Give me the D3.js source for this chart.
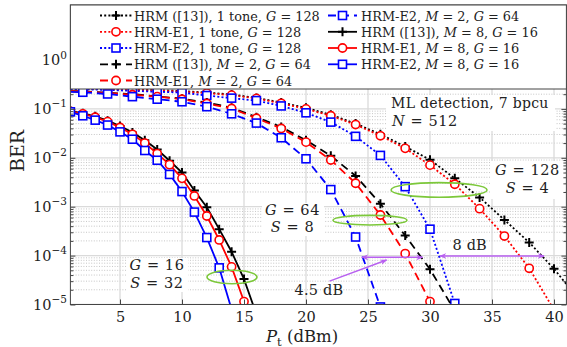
<!DOCTYPE html>
<html><head><meta charset="utf-8">
<script src="https://cdn.jsdelivr.net/npm/d3@7"></script>
<style>
html,body{margin:0;padding:0;background:#fff;}
svg{display:block;}
text{font-family:'DejaVu Serif',serif;fill:#222;}
</style></head>
<body>
<div id="chart"></div>
<script>
// ---------- data ----------
const xTicks = [5, 10, 15, 20, 25, 30, 35, 40];
const yTickExps = [0, -1, -2, -3, -4, -5];

// G = 16 group (M = 8), every 1 dB
const xM8 = [1,2,3,4,5,6,7,8,9,10,11,12,13,14,15,16];
const hrmM8 = [0.0912,0.0813,0.0708,0.0575,0.0447,0.0331,0.0229,0.0148,0.00871,0.00501,0.00214,9.77e-4,3.47e-4,1.20e-4,3.31e-5,6.31e-6];
const e1M8  = [0.0891,0.0794,0.0676,0.0550,0.0417,0.0302,0.0200,0.0122,0.00724,0.00380,0.00166,6.46e-4,2.09e-4,5.89e-5,1.15e-5,1.58e-6];
const xE2M8 = [1,2,3,4,5,6,7,8,9,10,11,12,13,14];
const e2M8  = [0.0871,0.0724,0.0589,0.0468,0.0339,0.0240,0.0141,0.00891,0.00457,0.00204,7.76e-4,2.34e-4,5.62e-5,7.94e-6];

// G = 64 group (M = 2), every 2 dB
const xM2 = [0,2,4,6,8,10,12,14,16,18,20,22,24,26,28,30,32];
const hrmM2 = [0.234,0.229,0.214,0.200,0.180,0.162,0.135,0.106,0.0676,0.0427,0.0229,0.0110,0.00427,0.00115,2.57e-4,5.25e-5,7.41e-6];
const e1M2  = [0.234,0.226,0.211,0.195,0.178,0.158,0.129,0.102,0.0646,0.0398,0.0209,0.00902,0.00302,6.76e-4,1.10e-4,1.15e-5,1e-6];
const xE2M2 = [0,2,4,6,8,10,12,14,16,18,20,22,24,26];
const e2M2  = [0.229,0.219,0.202,0.178,0.158,0.140,0.111,0.0794,0.0513,0.0257,0.00955,0.00224,2.40e-4,8.91e-6];

// G = 128 group (1 tone), every 2 dB
const x1T = [0,2,4,6,8,10,12,14,16,18,20,22,24,26,28,30,32,34,36,38,40,42];
const hrm1T = [0.266,0.260,0.254,0.248,0.243,0.232,0.216,0.197,0.168,0.135,0.105,0.0759,0.0501,0.0302,0.0170,0.00912,0.00380,0.00155,5.37e-4,1.86e-4,5.37e-5,1.26e-5];
const e11T  = [0.263,0.257,0.251,0.245,0.237,0.226,0.211,0.191,0.164,0.130,0.100,0.0724,0.0479,0.0282,0.0156,0.00708,0.00288,9.12e-4,2.51e-4,5.50e-5,7.76e-6,1e-6];
const xE21T = [0,2,4,6,8,10,12,14,16,18,20,22,24,26,28,30,32,34];
const e21T  = [0.257,0.251,0.245,0.234,0.224,0.216,0.188,0.166,0.148,0.115,0.0832,0.0537,0.0275,0.0112,0.00257,3.47e-4,1.05e-5,1e-7];

const seriesDefs = [
  {name:"HRM ([13]), 1 tone, G = 128", x:x1T, y:hrm1T, color:"#000", dash:"2,2.2", mark:"plus", col:0},
  {name:"HRM-E1, 1 tone, G = 128", x:x1T, y:e11T, color:"#ff0000", dash:"2,2.2", mark:"circle", col:0},
  {name:"HRM-E2, 1 tone, G = 128", x:xE21T, y:e21T, color:"#0000ff", dash:"2,2.2", mark:"square", col:0},
  {name:"HRM ([13]), M = 2, G = 64", x:xM2, y:hrmM2, color:"#000", dash:"8,5", mark:"plus", col:0},
  {name:"HRM-E1, M = 2, G = 64", x:xM2, y:e1M2, color:"#ff0000", dash:"8,5", mark:"circle", col:0},
  {name:"HRM-E2, M = 2, G = 64", x:xE2M2, y:e2M2, color:"#0000ff", dash:"8,5", mark:"square", col:1},
  {name:"HRM ([13]), M = 8, G = 16", x:xM8, y:hrmM8, color:"#000", dash:null, mark:"plus", col:1},
  {name:"HRM-E1, M = 8, G = 16", x:xM8, y:e1M8, color:"#ff0000", dash:null, mark:"circle", col:1},
  {name:"HRM-E2, M = 8, G = 16", x:xE2M8, y:e2M8, color:"#0000ff", dash:null, mark:"square", col:1}
];

// ---------- layout ----------
const W = 567, H = 347;
const svg = d3.select("#chart").append("svg").attr("width", W).attr("height", H);
const xs = d3.scaleLinear().domain([1, 41]).range([70.4, 566.4]);
const ys = d3.scaleLog().domain([1e-5, Math.pow(10, 1.125)]).range([304.5, 5]);
const L = xs.range()[0], R = xs.range()[1], T = ys.range()[1], B = ys.range()[0];

svg.append("defs").append("clipPath").attr("id","clip")
  .append("rect").attr("x",L).attr("y",T).attr("width",R-L).attr("height",B-T);

// grid
const minors = [];
for (let e=-5; e<=1; e++) for (let m=2; m<=9; m++) { const v=m*Math.pow(10,e); if (v<ys.domain()[1]) minors.push(v); }
const grid = svg.append("g").attr("clip-path","url(#clip)");
grid.selectAll(".mg").data(minors).join("line")
  .attr("x1",L).attr("x2",R).attr("y1",d=>ys(d)).attr("y2",d=>ys(d))
  .attr("stroke","#b8b8b8").attr("stroke-width",0.8).attr("stroke-dasharray","1,1.6");
grid.selectAll(".gy").data(yTickExps.map(e=>Math.pow(10,e))).join("line")
  .attr("x1",L).attr("x2",R).attr("y1",d=>ys(d)).attr("y2",d=>ys(d))
  .attr("stroke","#dadada").attr("stroke-width",1.3);
grid.selectAll(".gx").data(xTicks).join("line")
  .attr("x1",d=>xs(d)).attr("x2",d=>xs(d)).attr("y1",T).attr("y2",B)
  .attr("stroke","#dadada").attr("stroke-width",1.3);

// helper for math-italic text
function richText(sel, str) {
  const parts = str.split(/(\b[GMNSP](?= =))/);
  parts.forEach(p => {
    if (!p) return;
    const t = sel.append("tspan").text(p);
    if (/^[GMNSP]$/.test(p)) t.attr("font-style","italic");
  });
}

// white annotation boxes
const boxes = [
  {x0:386, x1:555, y0:95, y1:131},
  {x0:490, x1:565, y0:161, y1:199},
  {x0:262, x1:324, y0:203, y1:236},
  {x0:127, x1:188, y0:258, y1:292}
];
svg.append("g").selectAll("rect").data(boxes).join("rect")
  .attr("x",d=>d.x0).attr("y",d=>d.y0).attr("width",d=>d.x1-d.x0).attr("height",d=>d.y1-d.y0)
  .attr("fill","#fff");

// curves
const line = d3.line().x(d=>xs(d[0])).y(d=>ys(d[1]));
const plotG = svg.append("g").attr("clip-path","url(#clip)");
function drawMarker(g, type, color, cx, cy) {
  if (type==="circle") {
    g.append("circle").attr("cx",cx).attr("cy",cy).attr("r",4.1)
      .attr("fill","#fff").attr("stroke",color).attr("stroke-width",1.6);
  } else if (type==="square") {
    g.append("rect").attr("x",cx-4).attr("y",cy-4).attr("width",8).attr("height",8)
      .attr("fill","#fff").attr("stroke",color).attr("stroke-width",1.6);
  } else {
    g.append("path").attr("d",`M${cx-4.5},${cy}H${cx+4.5}M${cx},${cy-4.5}V${cy+4.5}`)
      .attr("stroke",color).attr("stroke-width",2).attr("fill","none");
  }
}
seriesDefs.forEach(s => {
  const pts = s.x.map((xv,i)=>[xv, s.y[i]]);
  const g = plotG.append("g");
  g.append("path").datum(pts).attr("d",line).attr("fill","none")
    .attr("stroke",s.color).attr("stroke-width",1.8)
    .attr("stroke-dasharray", s.dash ? s.dash : null);
  pts.forEach(p => drawMarker(g, s.mark, s.color, xs(p[0]), ys(p[1])));
});

// annotation texts
const ann = svg.append("g");
function annText(x, y, str, anchor, size, ls) {
  const t = ann.append("text").attr("x",x).attr("y",y).attr("text-anchor",anchor||"middle")
    .attr("font-size", size).attr("letter-spacing", ls);
  richText(t, str);
}
annText(391, 108, "ML detection, 7 bpcu", "start", 14, 0.3);
annText(392, 126, "N = 512", "start", 14.5, 0.6);
annText(527.5, 175, "G = 128", "middle", 14.5, 0.6);
annText(527.5, 193, "S = 4", "middle", 14.5, 0.6);
annText(292.5, 215, "G = 64", "middle", 14.5, 0.6);
annText(292.5, 232, "S = 8", "middle", 14.5, 0.6);
annText(157, 270, "G = 16", "middle", 14.5, 0.6);
annText(157, 288, "S = 32", "middle", 14.5, 0.6);
annText(xs(21.05), 295, "4.5 dB", "middle", 14.5, 0.2);
annText(xs(33.2), 249.5, "8 dB", "middle", 14.5, 0.2);

// green ellipses
const ellipses = [
  {x:14.03, y:3.65e-5, rx:25, ry:6.7},
  {x:25.16, y:5.3e-4, rx:37, ry:4.8},
  {x:30.73, y:2.2e-3, rx:48, ry:7.3}
];
svg.append("g").selectAll("ellipse").data(ellipses).join("ellipse")
  .attr("cx",d=>xs(d.x)).attr("cy",d=>ys(d.y)).attr("rx",d=>d.rx).attr("ry",d=>d.ry)
  .attr("fill","none").attr("stroke","#7cc83a").attr("stroke-width",1.6);

// purple arrows
const purple = "#b860f0";
const defs = svg.select("defs");
defs.append("marker").attr("id","ah").attr("viewBox","0 0 10 10").attr("refX",9).attr("refY",5)
  .attr("markerWidth",7).attr("markerHeight",7).attr("orient","auto-start-reverse")
  .attr("markerUnits","userSpaceOnUse")
  .append("path").attr("d","M0,1 L10,5 L0,9 L3,5 Z").attr("fill",purple);
const arrows = [
  {x1:24.5, y1:9.2e-5, x2:29.4, y2:9.2e-5, both:true},
  {x1:21.9, y1:3.0e-5, x2:26.5, y2:8.1e-5, both:false},
  {x1:30.8, y1:9.85e-5, x2:39.2, y2:9.85e-5, both:true}
];
svg.append("g").selectAll("line").data(arrows).join("line")
  .attr("x1",d=>xs(d.x1)).attr("y1",d=>ys(d.y1)).attr("x2",d=>xs(d.x2)).attr("y2",d=>ys(d.y2))
  .attr("stroke",purple).attr("stroke-width",1.5)
  .attr("marker-end","url(#ah)").attr("marker-start",d=>d.both?"url(#ah)":null);

// axes (inward ticks)
const axCol = "#444";
function styleAxis(g){ g.select(".domain").remove(); g.selectAll("line").attr("stroke",axCol); }
const xa = svg.append("g").attr("transform",`translate(0,${B})`)
  .call(d3.axisBottom(xs).tickValues(xTicks).tickSize(-5).tickPadding(7).tickFormat(d3.format("d")));
styleAxis(xa); xa.selectAll("text").attr("font-size",14.5).attr("fill","#222").attr("font-family","'DejaVu Serif',serif");
const xt = svg.append("g").attr("transform",`translate(0,${T})`)
  .call(d3.axisTop(xs).tickValues(xTicks).tickSize(-5).tickFormat(""));
styleAxis(xt);
const yDec = yTickExps.map(e=>Math.pow(10,e));
[ [d3.axisLeft, L], [d3.axisRight, R] ].forEach(([fn, xpos]) => {
  const a = svg.append("g").attr("transform",`translate(${xpos},0)`)
    .call(fn(ys).tickValues(yDec).tickSize(-5).tickFormat(""));
  styleAxis(a);
  const m = svg.append("g").attr("transform",`translate(${xpos},0)`)
    .call(fn(ys).tickValues(minors).tickSize(-3).tickFormat(""));
  styleAxis(m);
});
// y tick labels 10^k
const yl = svg.append("g");
yTickExps.forEach(e => {
  const t = yl.append("text").attr("x",67).attr("y",ys(Math.pow(10,e))+5)
    .attr("text-anchor","end").attr("font-size",14.5);
  t.append("tspan").text("10");
  t.append("tspan").attr("dy",-6.5).attr("font-size",10.5).text(e===0 ? "0" : "\u2212"+(-e));
});
// frame
svg.append("rect").attr("x",L).attr("y",T).attr("width",R-L).attr("height",B-T)
  .attr("fill","none").attr("stroke",axCol).attr("stroke-width",1);

// axis titles
svg.append("text").attr("transform",`translate(23.5,151) rotate(-90)`).attr("text-anchor","middle")
  .attr("font-size",19).text("BER");
const xl = svg.append("text").attr("x",266).attr("y",342).attr("font-size",16.5);
xl.append("tspan").attr("font-style","italic").text("P");
xl.append("tspan").attr("font-size",11.5).attr("dy",3.5).text("t");
xl.append("tspan").attr("dy",-3.5).text(" (dBm)");

// legend
const leg = svg.append("g");
leg.append("rect").attr("x",L).attr("y",T).attr("width",R-L).attr("height",84)
  .attr("fill","#fff").attr("stroke",axCol).attr("stroke-width",1);
const colX = [{l0:100, l1:132, tx:134}, {l0:328, l1:357, tx:361}];
const rowY = [15.5, 31.8, 48, 64.3, 80.5];
const counters = [0,0];
const legTexts = [];
seriesDefs.forEach(s => {
  const c = colX[s.col]; const r = rowY[counters[s.col]++];
  const g = leg.append("g");
  g.append("line").attr("x1",c.l0).attr("x2",c.l1).attr("y1",r).attr("y2",r)
    .attr("stroke",s.color).attr("stroke-width",1.8).attr("stroke-dasharray",s.dash?s.dash:null);
  drawMarker(g, s.mark, s.color, (c.l0+c.l1)/2, r);
  const t = g.append("text").attr("x",c.tx).attr("y",r+5).attr("font-size",14);
  richText(t, s.name);
  legTexts.push(t);
});
// fit the legend font so the longest first-column entry ends before column two
const len0 = legTexts[0].node().getComputedTextLength();
if (len0 > 0) {
  const fs = Math.min(14, 14 * 186 / len0);
  legTexts.forEach(t => t.attr("font-size", fs));
}
</script>
</body></html>
